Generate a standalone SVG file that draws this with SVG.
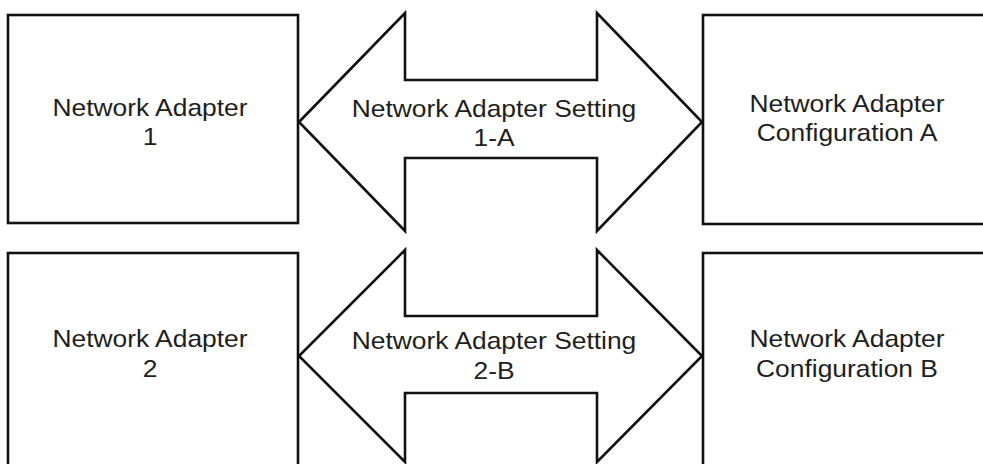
<svg xmlns="http://www.w3.org/2000/svg" width="983" height="464" viewBox="0 0 983 464">
<style>
.box{fill:#fff;stroke:#111;stroke-width:2.6}
.arrow{fill:#fff;stroke:#111;stroke-width:2.6;stroke-linejoin:miter}
.lbl{font-family:"Liberation Sans",Arial,sans-serif;font-size:24px;fill:#1e1e1e;text-anchor:middle}
</style>
<rect width="983" height="464" fill="#fff"/>
<g id="adapter1">
<rect class="box" x="8" y="15" width="290" height="208"/>
<text class="lbl" transform="translate(150,0) scale(1.1,1)"><tspan x="0" y="116">Network Adapter</tspan><tspan x="0" y="145">1</tspan></text>
</g>
<g id="configA">
<rect class="box" x="703" y="15" width="300" height="209"/>
<text class="lbl" transform="translate(847,0) scale(1.1,1)"><tspan x="0" y="112">Network Adapter</tspan><tspan x="0" y="141">Configuration A</tspan></text>
</g>
<g id="adapter2">
<rect class="box" x="8" y="253" width="290" height="260"/>
<text class="lbl" transform="translate(150,0) scale(1.1,1)"><tspan x="0" y="347">Network Adapter</tspan><tspan x="0" y="377">2</tspan></text>
</g>
<g id="configB">
<rect class="box" x="703" y="253" width="300" height="260"/>
<text class="lbl" transform="translate(847,0) scale(1.1,1)"><tspan x="0" y="347">Network Adapter</tspan><tspan x="0" y="377">Configuration B</tspan></text>
</g>
<g id="connectors">
<g id="setting1A">
<polygon class="arrow" points="299,122 405,13 405,80 597,80 597,13 702,122 597,231 597,158 405,158 405,231"/>
<text class="lbl" transform="translate(494,0) scale(1.1,1)"><tspan x="0" y="117">Network Adapter Setting</tspan><tspan x="0" y="146">1-A</tspan></text>
</g>
<g id="setting2B">
<polygon class="arrow" points="299,356 405,250 405,316 597,316 597,250 702,356 597,462 597,393 405,393 405,462"/>
<text class="lbl" transform="translate(494,0) scale(1.1,1)"><tspan x="0" y="349">Network Adapter Setting</tspan><tspan x="0" y="379">2-B</tspan></text>
</g>
</g>
</svg>
